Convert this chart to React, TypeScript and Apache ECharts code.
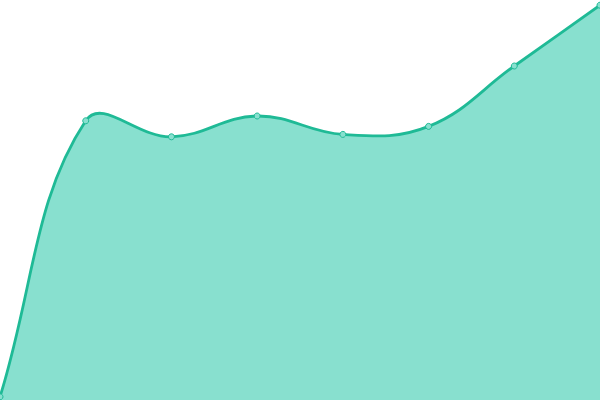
import { useEffect, useRef } from 'react';
import * as echarts from 'echarts';

const categories = ['A', 'B', 'C', 'D', 'E', 'F', 'G', 'H'];
const values = [0.8, 69.8, 65.8, 71, 66.4, 68.4, 83.5, 98.7];

const lineColor = '#1fba96';
const fillColor = '#88e0cf';
const tension = 0.4;

// spline through pixel points: end points take their tangent from the neighbour
function buildPath(pts: number[][], box: { x: number; y: number; width: number; height: number }) {
  const clamp = (p: number[]) => [
    Math.min(box.x + box.width, Math.max(box.x, p[0])),
    Math.min(box.y + box.height, Math.max(box.y, p[1])),
  ];

  const before: number[][] = [];
  const after: number[][] = [];
  pts.forEach((p, i) => {
    const prev = pts[i - 1] || p;
    const next = pts[i + 1] || p;
    const d01 = Math.hypot(p[0] - prev[0], p[1] - prev[1]);
    const d12 = Math.hypot(next[0] - p[0], next[1] - p[1]);
    const sum = d01 + d12 || 1;
    const fa = tension * (d01 / sum);
    const fb = tension * (d12 / sum);
    const vx = next[0] - prev[0];
    const vy = next[1] - prev[1];
    before.push(clamp([p[0] - fa * vx, p[1] - fa * vy]));
    after.push(clamp([p[0] + fb * vx, p[1] + fb * vy]));
  });

  let d = `M${pts[0][0]},${pts[0][1]}`;
  for (let i = 1; i < pts.length; i++) {
    const a = after[i - 1];
    const b = before[i];
    d += ` C${a[0]},${a[1]} ${b[0]},${b[1]} ${pts[i][0]},${pts[i][1]}`;
  }
  return d;
}

export default function App() {
  const containerRef = useRef<HTMLDivElement>(null);

  useEffect(() => {
    if (!containerRef.current) return;
    const chart = echarts.init(containerRef.current, null, { renderer: 'svg' });

    const option: echarts.EChartsOption = {
      animation: false,
      backgroundColor: '#ffffff',
      grid: { left: 0, right: 0, top: 0, bottom: 0 },
      xAxis: {
        type: 'category',
        data: categories,
        boundaryGap: false,
        show: false,
      },
      yAxis: {
        type: 'value',
        min: 0,
        max: 100,
        show: false,
      },
      series: [
        {
          type: 'custom',
          z: 1,
          silent: true,
          data: values.map((v, i) => [i, v]),
          encode: { x: 0, y: 1 },
          renderItem: (params: any, api: any) => {
            if (params.dataIndex !== 0) return null;
            const pts = values.map((v, i) => api.coord([i, v]));
            const line = buildPath(pts, params.coordSys);
            const base0 = api.coord([0, 0]);
            const baseN = api.coord([values.length - 1, 0]);
            const area = `${line} L${baseN[0]},${baseN[1]} L${base0[0]},${base0[1]} Z`;
            return {
              type: 'group',
              children: [
                { type: 'path', shape: { pathData: area }, style: { fill: fillColor, stroke: 'none' } },
                { type: 'path', shape: { pathData: line }, style: { fill: 'none', stroke: lineColor, lineWidth: 2.8 } },
              ],
            };
          },
        },
        {
          type: 'line',
          z: 3,
          data: values,
          symbol: 'circle',
          symbolSize: 6,
          lineStyle: { width: 0, opacity: 0 },
          itemStyle: { color: fillColor, borderColor: lineColor, borderWidth: 1 },
        },
      ],
    };

    chart.setOption(option);
    return () => {
      chart.dispose();
    };
  }, []);

  return (
    <div ref={containerRef} style={{ position: 'fixed', left: 0, top: 0, width: 600, height: 400 }} />
  );
}
